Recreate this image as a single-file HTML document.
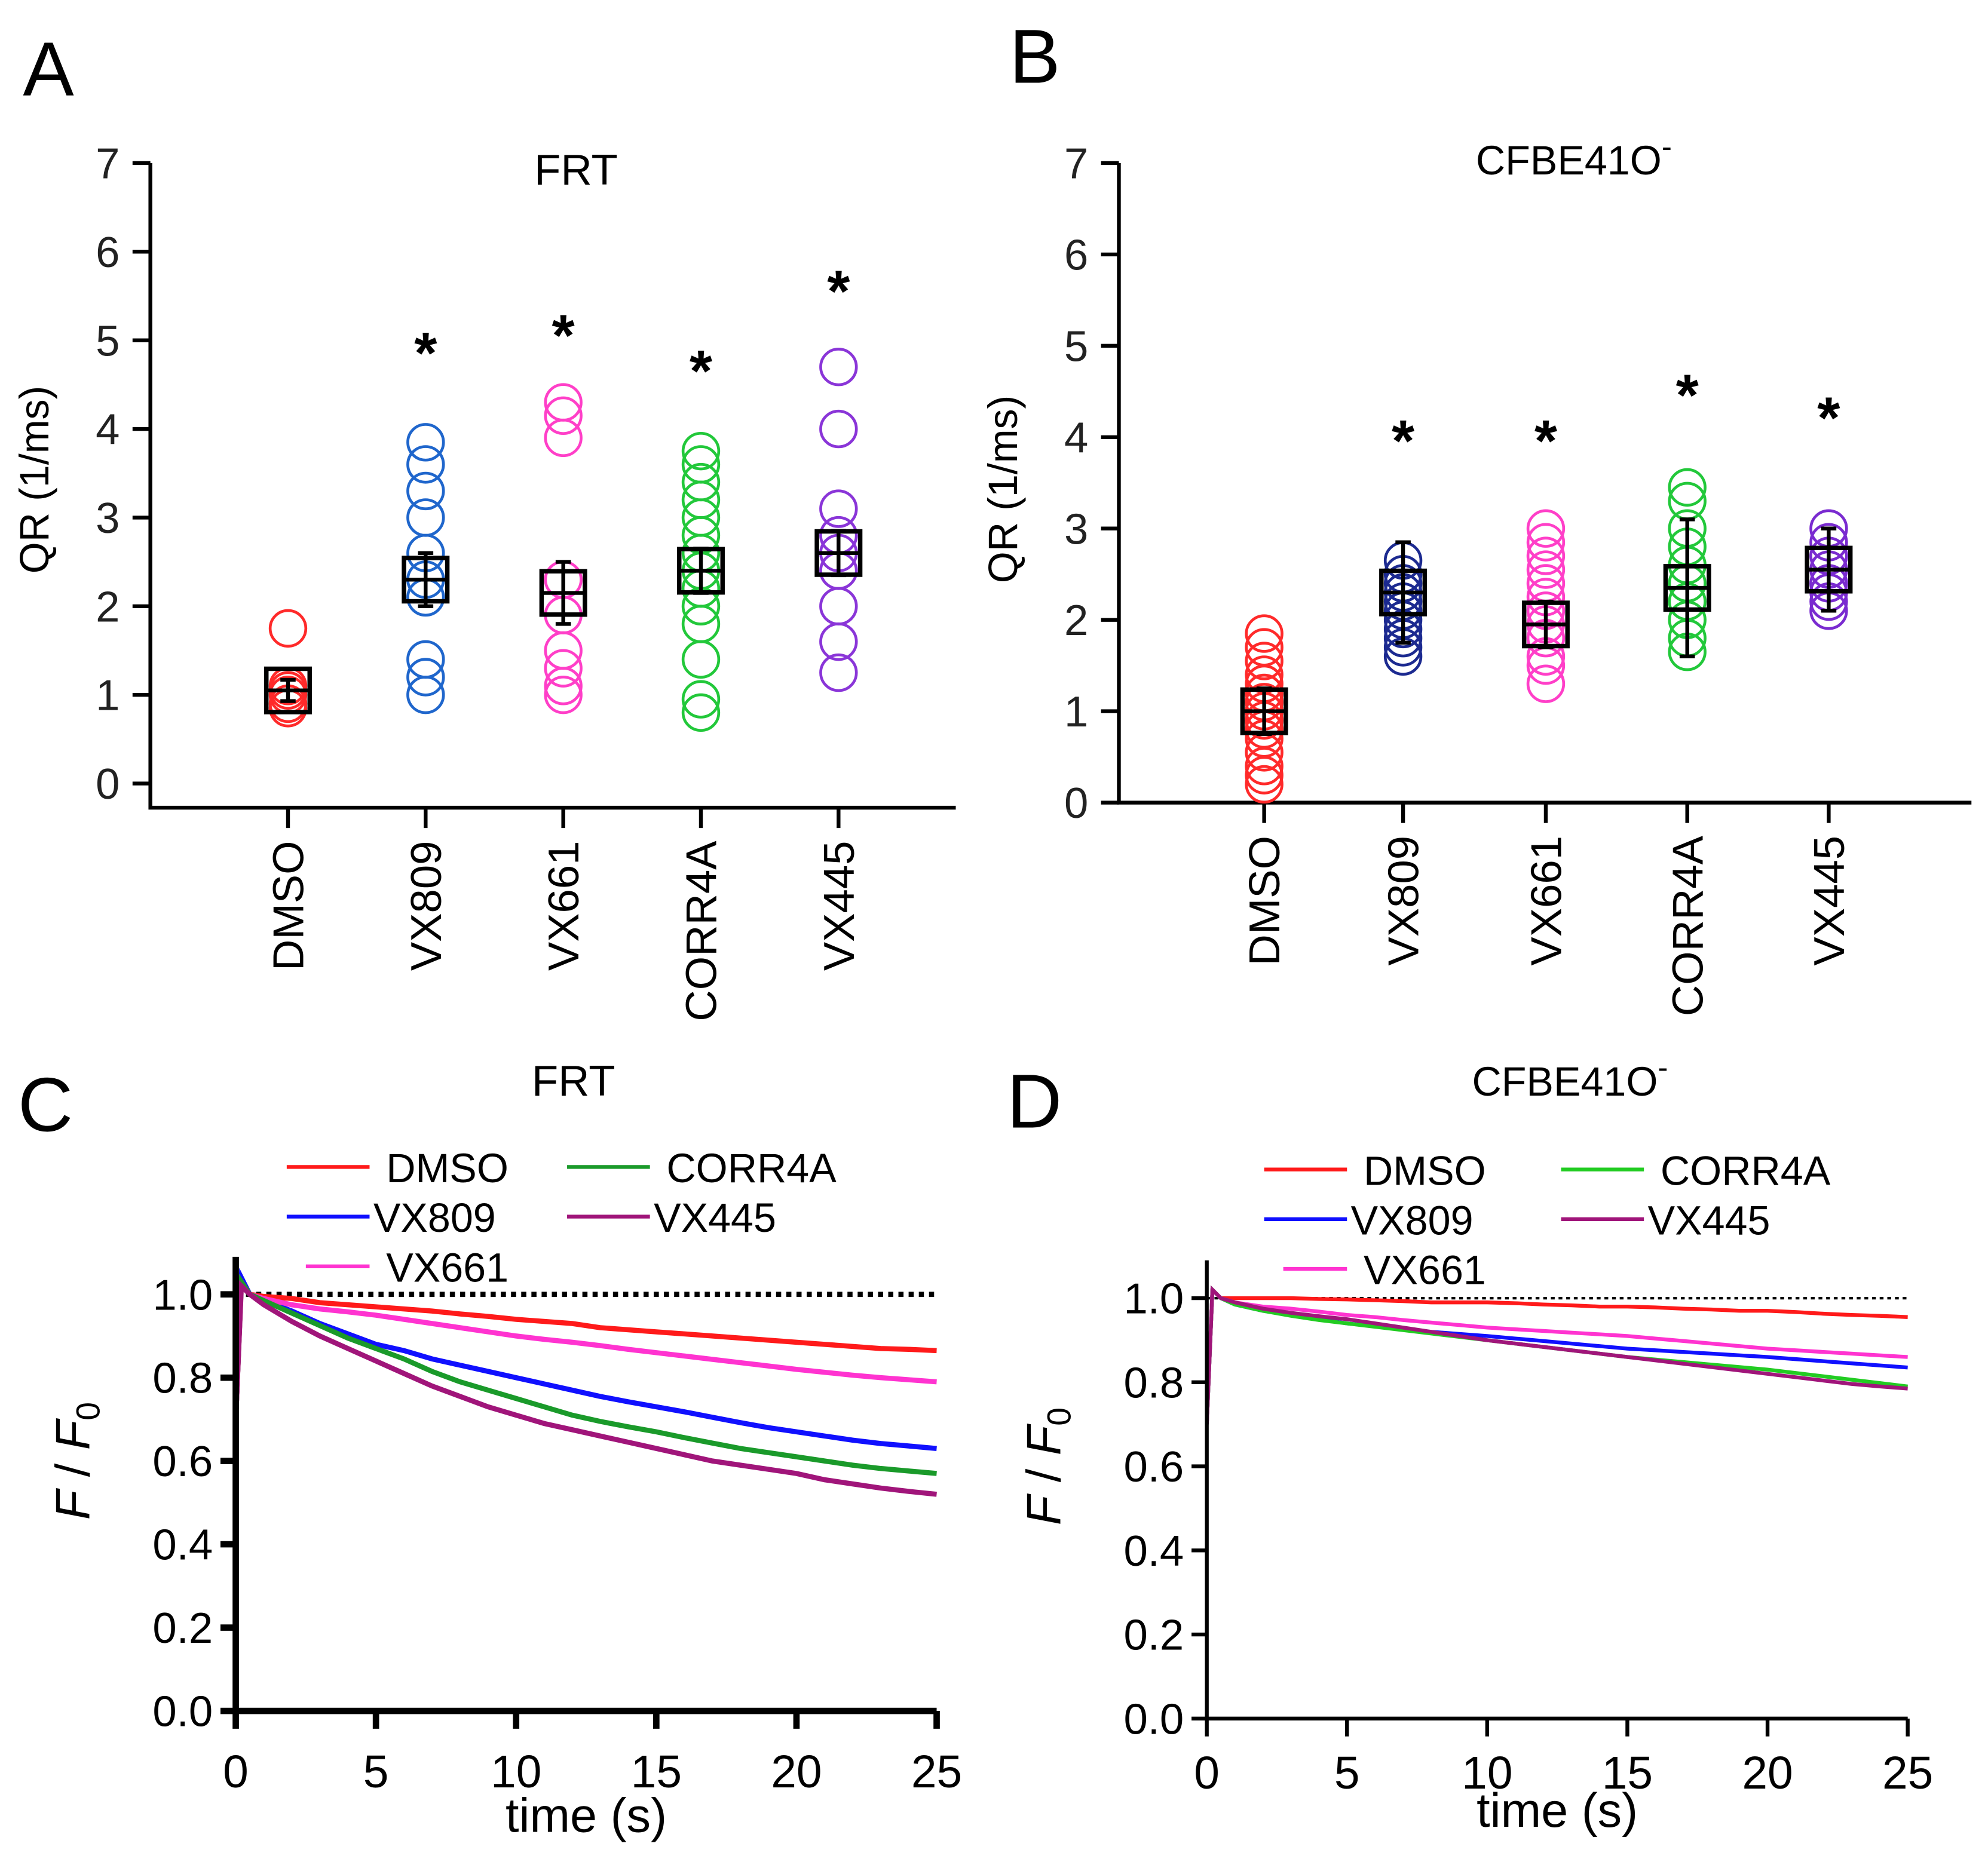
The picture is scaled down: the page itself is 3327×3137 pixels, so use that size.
<!DOCTYPE html>
<html><head><meta charset="utf-8"><style>
html,body{margin:0;padding:0;background:#fff;}
svg{display:block;font-family:"Liberation Sans",Arial,sans-serif;}
</style></head><body>
<svg id="fig" xmlns="http://www.w3.org/2000/svg" width="3327" height="3137" viewBox="0 0 1560 1471" preserveAspectRatio="none">
<text x="18" y="75" font-size="60">A</text>
<text x="792" y="65" font-size="60">B</text>
<text x="14" y="888" font-size="60">C</text>
<text x="790" y="885" font-size="60">D</text>
<text x="452" y="145" font-size="34" text-anchor="middle">FRT</text>
<text x="1235" y="137" font-size="32" text-anchor="middle">CFBE41O<tspan dy="-14" font-size="24">-</tspan></text>
<text x="450" y="860" font-size="34" text-anchor="middle">FRT</text>
<text x="1232" y="860" font-size="32" text-anchor="middle">CFBE41O<tspan dy="-14" font-size="24">-</tspan></text>
<g id="gA"></g><g id="gB"></g><g id="gC"></g><g id="gD"></g>
</svg>
<script>
const NS="http://www.w3.org/2000/svg";
function mk(p,t,a){const e=document.createElementNS(NS,t);for(const k in a)e.setAttribute(k,a[k]);p.appendChild(e);return e;}
const categories=["DMSO","VX809","VX661","CORR4A","VX445"];
const yTicksQR=[0,1,2,3,4,5,6,7];
// Panel A data
const a_DMSO=[1.75,1.1,1.0,0.9,0.85,1.05];
const a_VX809=[3.85,3.6,3.3,3.0,2.6,2.3,2.1,1.4,1.2,1.0];
const a_VX661=[4.3,4.15,3.9,2.3,1.9,1.5,1.3,1.1,1.0];
const a_CORR4A=[3.75,3.6,3.4,3.2,3.0,2.8,2.6,2.4,2.2,2.0,1.8,1.4,0.95,0.8];
const a_VX445=[4.7,4.0,3.1,2.8,2.6,2.4,2.0,1.6,1.25];
const a_means=[1.05,2.3,2.15,2.4,2.6];
const a_errs=[0.12,0.3,0.35,0.25,0.25];
const a_stars=[null,5.0,5.2,4.8,5.7];
// Panel B data
const b_DMSO=[1.85,1.7,1.55,1.4,1.3,1.2,1.1,1.0,0.9,0.8,0.7,0.55,0.4,0.3,0.2];
const b_VX809=[2.65,2.5,2.4,2.3,2.2,2.1,2.0,1.9,1.8,1.7,1.6];
const b_VX661=[3.0,2.85,2.7,2.55,2.4,2.25,2.1,1.95,1.8,1.6,1.5,1.3];
const b_CORR4A=[3.45,3.3,3.0,2.8,2.6,2.4,2.2,2.0,1.8,1.65];
const b_VX445=[3.0,2.85,2.7,2.55,2.4,2.3,2.2,2.1];
const b_means=[1.0,2.3,1.95,2.35,2.55];
const b_errs=[0.25,0.55,0.25,0.75,0.45];
const b_stars=[null,4.1,4.1,4.6,4.35];
// Time course data
const times=[0,0.2,0.5,1,2,3,4,5,6,7,8,9,10,11,12,13,14,15,16,17,18,19,20,21,22,23,24,25];
const c_DMSO  =[0.7,1.03,1.0,0.995,0.99,0.98,0.975,0.97,0.965,0.96,0.953,0.947,0.94,0.935,0.93,0.92,0.915,0.91,0.905,0.90,0.895,0.89,0.885,0.88,0.875,0.87,0.868,0.865];
const c_VX661 =[0.7,1.03,1.0,0.99,0.975,0.965,0.958,0.95,0.94,0.93,0.92,0.91,0.90,0.892,0.885,0.877,0.868,0.86,0.852,0.844,0.836,0.828,0.82,0.813,0.806,0.8,0.795,0.79];
const c_VX809 =[0.7,1.04,1.0,0.985,0.96,0.93,0.905,0.88,0.865,0.845,0.83,0.815,0.80,0.785,0.77,0.755,0.742,0.73,0.718,0.705,0.692,0.68,0.67,0.66,0.65,0.642,0.636,0.63];
const c_CORR4A=[0.7,1.03,1.0,0.985,0.955,0.925,0.895,0.87,0.845,0.815,0.79,0.77,0.75,0.73,0.71,0.695,0.682,0.67,0.656,0.643,0.63,0.62,0.61,0.6,0.59,0.582,0.576,0.57];
const c_VX445 =[0.7,1.02,1.0,0.975,0.935,0.9,0.87,0.84,0.81,0.78,0.755,0.73,0.71,0.69,0.675,0.66,0.645,0.63,0.615,0.6,0.59,0.58,0.57,0.555,0.545,0.535,0.527,0.52];
const d_DMSO  =[0.7,1.02,1.0,1.0,1.0,1.0,0.998,0.997,0.995,0.993,0.99,0.99,0.99,0.988,0.985,0.983,0.98,0.98,0.978,0.975,0.973,0.97,0.97,0.967,0.963,0.96,0.958,0.955];
const d_VX661 =[0.7,1.02,1.0,0.99,0.98,0.975,0.968,0.96,0.955,0.948,0.942,0.936,0.93,0.926,0.922,0.918,0.914,0.91,0.904,0.898,0.892,0.886,0.88,0.876,0.872,0.868,0.864,0.86];
const d_VX809 =[0.7,1.02,1.0,0.985,0.97,0.96,0.95,0.94,0.933,0.926,0.92,0.915,0.91,0.904,0.898,0.892,0.886,0.88,0.876,0.872,0.868,0.864,0.86,0.855,0.85,0.845,0.84,0.835];
const d_CORR4A=[0.7,1.02,1.0,0.985,0.97,0.958,0.948,0.94,0.932,0.924,0.916,0.908,0.90,0.892,0.884,0.876,0.868,0.86,0.854,0.848,0.842,0.836,0.83,0.822,0.814,0.806,0.798,0.79];
const d_VX445 =[0.7,1.02,1.0,0.99,0.975,0.965,0.957,0.95,0.94,0.93,0.92,0.91,0.90,0.892,0.884,0.876,0.868,0.86,0.852,0.844,0.836,0.828,0.82,0.812,0.804,0.796,0.79,0.785];
const xTicksT=[0,5,10,15,20,25];
const yTicksF=[0,0.2,0.4,0.6,0.8,1.0];

function scatterPanel(g,o,groups,colors,means,errs,stars,tag){
  const y=v=>o.y0-(o.y0-o.y7)*v/7;
  const x=i=>o.cx[i];
  // axes
  const ax=mk(g,'path',{d:`M${o.ax} ${o.y7}V${o.bot}H${o.right}`,stroke:'#000','stroke-width':3,fill:'none'});
  
  
  yTicksQR.forEach(t=>{
    mk(g,'line',{x1:o.ax-14,x2:o.ax,y1:y(t),y2:y(t),stroke:'#000','stroke-width':3});
    const tx=mk(g,'text',{x:o.ax-24,y:y(t)+12,'font-size':34,'text-anchor':'end',fill:'#222'});
    tx.textContent=t;
    
    
  });
  const yt=mk(g,'text',{x:0,y:0,'font-size':32,'text-anchor':'middle',transform:`translate(${o.ax-80},${y(3.5)+5}) rotate(-90)`});
  yt.textContent='QR (1/ms)';
  
  
  categories.forEach((c,i)=>{
    mk(g,'line',{x1:x(i),x2:x(i),y1:o.bot,y2:o.bot+16,stroke:'#000','stroke-width':3});
    const t=mk(g,'text',{x:0,y:0,'font-size':34,'text-anchor':'end',transform:`translate(${x(i)+12},${o.bot+26}) rotate(-90)`});
    t.textContent=c;
    
    
    groups[i].forEach(v=>{
      const ci=mk(g,'circle',{cx:x(i),cy:y(v),r:14,fill:'none',stroke:colors[i],'stroke-width':2.2});
      
      
    });
    const m=y(means[i]);
    const bx=mk(g,'rect',{x:x(i)-17,y:m-17,width:34,height:34,fill:'none',stroke:'#000','stroke-width':3.5});
    
    
    mk(g,'line',{x1:x(i)-17,x2:x(i)+17,y1:m,y2:m,stroke:'#000','stroke-width':3});
    const e1=y(means[i]+errs[i]),e2=y(means[i]-errs[i]);
    mk(g,'path',{d:`M${x(i)} ${e1}V${e2}M${x(i)-6} ${e1}H${x(i)+6}M${x(i)-6} ${e2}H${x(i)+6}`,stroke:'#000','stroke-width':3});
    if(stars[i]!=null){
      const s=mk(g,'text',{x:x(i),y:y(stars[i])+26,'font-size':46,'font-weight':'bold','text-anchor':'middle'});
      s.textContent='*';
      
      
    }
  });
}
scatterPanel(document.getElementById('gA'),{ax:118,y0:615,y7:128,bot:634,right:750,cx:[226,334,442,550,658]},
 [a_DMSO,a_VX809,a_VX661,a_CORR4A,a_VX445],['#ff2a2a','#1f66cc','#ff3fc8','#22c83a','#8a35d8'],a_means,a_errs,a_stars,'panel-a');
scatterPanel(document.getElementById('gB'),{ax:878,y0:630,y7:128,bot:630,right:1547,cx:[992,1101,1213,1324,1435]},
 [b_DMSO,b_VX809,b_VX661,b_CORR4A,b_VX445],['#ff2a2a','#1c2a90','#ff3fc8','#22c83a','#7a2bd0'],b_means,b_errs,b_stars,'panel-b');

function tracePanel(g,o,series,names,colors,tag){
  const x=t=>o.x0+(o.x25-o.x0)*t/25;
  const y=v=>o.y0-(o.y0-o.y1)*v;
  mk(g,'line',{x1:x(0),x2:x(25),y1:y(1),y2:y(1),stroke:'#000','stroke-width':o.thick?4:2,'stroke-dasharray':o.thick?'4 4':'3 3'});
  series.forEach((s,i)=>{
    const p=mk(g,'polyline',{points:times.map((t,j)=>x(t)+','+y(s[j])).join(' '),fill:'none',stroke:colors[i],'stroke-width':o.thick?4:3});
    
    
  });
  const ax=mk(g,'path',{d:`M${o.x0} ${y(1.09)}V${o.y0}H${x(25)}`,stroke:'#000','stroke-width':o.thick?5:3,fill:'none'});
  
  
  yTicksF.forEach(t=>{
    mk(g,'line',{x1:o.x0-12,x2:o.x0,y1:y(t),y2:y(t),stroke:'#000','stroke-width':o.thick?5:3});
    const tx=mk(g,'text',{x:o.x0-18,y:y(t)+12,'font-size':34,'text-anchor':'end'});
    tx.textContent=t.toFixed(1);
    
    
  });
  xTicksT.forEach(t=>{
    mk(g,'line',{x1:x(t),x2:x(t),y1:o.y0,y2:o.y0+14,stroke:'#000','stroke-width':o.thick?5:3});
    const tx=mk(g,'text',{x:x(t),y:o.y0+o.xl,'font-size':36,'text-anchor':'middle'});
    tx.textContent=t;
    
    
  });
  const xt=mk(g,'text',{x:x(12.5),y:o.y0+o.xt,'font-size':38,'text-anchor':'middle'});
  xt.textContent='time  (s)';
  
  
  const yt=mk(g,'text',{x:0,y:0,'font-size':38,'text-anchor':'middle',transform:`translate(${o.x0-115},${y(0.6)}) rotate(-90)`});
  yt.innerHTML='<tspan font-style="italic">F</tspan> / <tspan font-style="italic">F</tspan><tspan font-size="26" dy="8">0</tspan>';
  
  
  // legend
  const L=o.leg;
  const ent=[[0,0,0],[1,0,1],[2,0,2],[3,1,0],[4,1,1]];
  ent.forEach(([i,col,row])=>{
    const lx=col?L.x2:L.x1, ly=L.y+row*39;
    const ln=mk(g,'line',{x1:lx+(i==2?15:0),x2:lx+65,y1:ly,y2:ly,stroke:colors[i],'stroke-width':3});
    
    
    const t=mk(g,'text',{x:lx+(i==1||i==4?68:78),y:ly+12,'font-size':32});
    t.textContent=names[i];
    
    
  });
}
const names=["DMSO","VX809","VX661","CORR4A","VX445"];
tracePanel(document.getElementById('gC'),{x0:185,x25:735,y0:1343,y1:1016,thick:true,xl:60,xt:95,leg:{x1:225,x2:445,y:916}},
 [c_DMSO,c_VX809,c_VX661,c_CORR4A,c_VX445],names,['#ff1a1a','#1010ff','#ff33d0','#1a9a2a','#a0157a'],'panel-c');
tracePanel(document.getElementById('gD'),{x0:947,x25:1497,y0:1349,y1:1019,thick:false,xl:55,xt:85,leg:{x1:992,x2:1225,y:918}},
 [d_DMSO,d_VX809,d_VX661,d_CORR4A,d_VX445],names,['#ff1a1a','#1010ff','#ff33d0','#22cc22','#a0157a'],'panel-d');
</script>
</body></html>
